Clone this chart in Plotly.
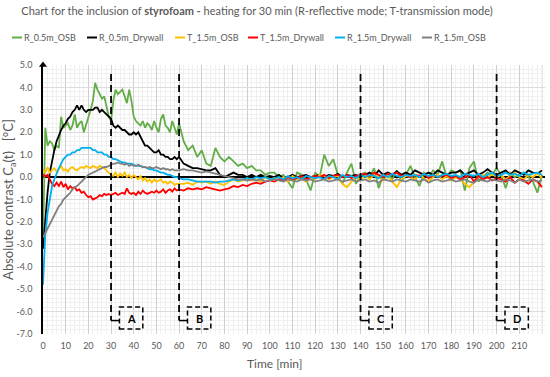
import plotly.graph_objects as go

# ---------------- data ----------------
time_min = list(range(0, 61)) + list(range(62, 221, 2))

series_names = ["R_0.5m_OSB", "R_0.5m_Drywall", "T_1.5m_OSB",
                "T_1.5m_Drywall", "R_1.5m_Drywall", "R_1.5m_OSB"]

r05_osb = [
    -3.0, 2.2, 1.4, 1.6, 1.5, 1.2, 1.4, 1.3, 2.7, 2.2,
    2.3, 2.4, 2.1, 2.3, 2.8, 2.2, 2.4, 2.5, 2.0, 2.3,
    2.6, 3.0, 3.4, 4.2, 3.9, 3.7, 3.5, 3.6, 3.2, 2.7,
    2.5, 3.4, 3.9, 3.7, 3.8, 3.9, 3.6, 3.3, 3.9, 3.4,
    2.7, 2.5, 2.4, 2.3, 2.5, 2.2, 2.4, 2.3, 2.1, 2.5,
    2.2, 2.0, 2.6, 2.8, 2.3, 2.2, 2.0, 2.5, 2.2, 1.9,
    2.4,
    1.6, 1.2, 1.4, 0.9, 1.2, 0.6, 0.5, 1.3, 0.9, 0.7,
    0.9, 0.7, 0.5, 0.6, 0.4, 0.5, 0.3, 0.3, 0.1, 0.2,
    0.2, 0.0, 0.1, -0.2, -0.5, 0.2, 0.1, -0.1, -0.6, 0.2,
    0.0, 1.0, 0.5, 0.8, 0.1, -0.3, 0.2, 0.6, -0.3, 0.1,
    0.2, 0.0, 0.4, -0.5, 0.1, 0.2, -0.1, 0.3, -0.2, 0.1,
    0.5, 0.0, -0.4, 0.2, 0.0, 0.3, 0.1, 0.7, 0.0, 0.3,
    0.2, 0.3, -0.6, 0.4, 0.7, -0.2, 0.0, 0.2, 0.1, 0.4,
    0.1, -0.5, 0.2, 0.0, 0.1, 0.2, 0.0, -0.2, -0.7, 0.1,
]

r05_drywall = [
    -3.2, -1.9, -0.7, 0.2, 0.8, 1.2, 1.6, 1.9, 2.1, 2.3,
    2.4, 2.6, 2.7, 2.9, 3.0, 3.2, 3.0, 3.2, 3.0, 2.9,
    3.0, 3.0, 3.0, 3.1, 3.1, 2.9, 3.0, 2.9, 2.8, 2.7,
    2.6, 2.3, 2.2, 2.3, 2.2, 2.1, 2.1, 2.0, 1.9, 1.9,
    2.0, 1.9, 2.0, 1.8, 1.6, 1.4, 1.4, 1.3, 1.2, 1.1,
    1.1, 1.2, 1.0, 1.0, 0.9, 0.9, 0.8, 0.8, 0.9, 0.8,
    0.9,
    0.6, 0.5, 0.4, 0.4, 0.35, 0.3, 0.3, 0.4, 0.1, 0.0,
    0.1, 0.2, 0.1, 0.1, 0.0, 0.1, 0.0, 0.1, 0.0, 0.05,
    0.0, 0.1, -0.05, 0.0, 0.1, 0.0, 0.05, 0.1, 0.0, 0.05,
    0.1, 0.0, 0.1, 0.05, 0.15, 0.0, 0.1, 0.05, 0.1, 0.0,
    0.1, 0.2, 0.05, 0.3, 0.1, 0.2, 0.1, 0.25, 0.1, 0.2,
    0.1, 0.3, 0.2, 0.1, 0.2, 0.1, 0.3, 0.2, 0.1, 0.2,
    0.2, 0.3, 0.1, 0.2, 0.3, 0.1, 0.2, 0.35, 0.2, 0.1,
    0.2, 0.3, 0.1, 0.3, 0.2, 0.1, 0.3, 0.2, 0.15, 0.3,
]

t15_osb = [
    0.3, 0.2, 0.45, 0.2, 0.3, 0.4, 0.25, 0.35, 0.5, 0.3,
    0.35, 0.25, 0.4, 0.45, 0.35, 0.3, 0.4, 0.45, 0.4, 0.5,
    0.45, 0.4, 0.5, 0.45, 0.4, 0.5, 0.45, 0.4, 0.3, 0.2,
    0.1, 0.05, 0.2, 0.0, 0.15, 0.05, 0.2, 0.0, 0.1, -0.05,
    0.1, 0.0, -0.1, 0.05, -0.15, -0.05, -0.2, -0.1, -0.25, -0.1,
    -0.2, -0.15, -0.1, -0.25, -0.2, -0.3, -0.2, -0.25, -0.35, -0.3,
    -0.3,
    -0.3, -0.25, -0.35, -0.2, -0.25, -0.2, -0.3, -0.2, -0.3, -0.35,
    -0.2, -0.1, -0.2, -0.15, -0.05, -0.15, -0.1, -0.2, 0.0, -0.1,
    -0.05, -0.1, 0.0, -0.2, 0.05, -0.1, -0.05, -0.2, 0.0, -0.1,
    0.1, 0.05, -0.1, 0.0, 0.05, -0.3, -0.45, -0.2, 0.0, -0.1,
    0.05, -0.1, 0.1, 0.0, -0.15, 0.05, -0.2, -0.45, -0.1, 0.05,
    0.0, -0.1, 0.1, -0.05, -0.2, 0.0, 0.1, -0.1, 0.05, -0.15,
    0.0, -0.1, -0.3, -0.45, -0.2, 0.0, 0.1, -0.05, 0.15, 0.0,
    0.1, -0.1, 0.05, 0.2, 0.0, -0.1, 0.1, 0.0, 0.15, -0.05,
]

t15_drywall = [
    0.1, 0.05, 0.1, -0.1, -0.3, -0.4, -0.25, -0.4, -0.2, -0.45,
    -0.3, -0.55, -0.4, -0.5, -0.45, -0.6, -0.55, -0.7, -0.65, -0.8,
    -0.9, -0.85, -1.0, -0.95, -0.9, -0.8, -0.85, -0.75, -0.8, -0.75,
    -0.8, -0.75, -0.7, -0.8, -0.75, -0.7, -0.75, -0.5, -0.7, -0.75,
    -0.7, -0.8, -0.65, -0.75, -0.6, -0.7, -0.75, -0.7, -0.65, -0.7,
    -0.6, -0.7, -0.65, -0.55, -0.7, -0.6, -0.55, -0.65, -0.5, -0.6,
    -0.55,
    -0.6, -0.5, -0.55, -0.5, -0.55, -0.45, -0.5, -0.55, -0.6, -0.55,
    -0.5, -0.4, -0.45, -0.35, -0.4, -0.3, -0.25, -0.3, -0.2, -0.15,
    -0.2, -0.1, -0.15, 0.0, -0.1, -0.05, 0.05, -0.1, 0.0, 0.05,
    0.0, 0.1, -0.05, 0.05, 0.1, 0.0, 0.1, -0.05, 0.05, 0.1,
    0.15, 0.05, 0.2, 0.1, 0.0, 0.15, 0.1, 0.2, 0.05, 0.1,
    0.0, 0.1, 0.05, 0.15, -0.05, 0.1, 0.0, 0.05, 0.1, -0.05,
    0.05, -0.1, 0.0, 0.1, -0.2, 0.05, -0.1, 0.0, -0.15, -0.05,
    -0.1, -0.2, 0.0, -0.25, -0.1, -0.15, -0.3, -0.1, -0.2, -0.45,
]

r15_drywall = [
    -4.8, -2.6, -1.6, -0.9, -0.4, -0.1, 0.2, 0.4, 0.6, 0.8,
    0.9, 1.0, 1.0, 1.1, 1.1, 1.2, 1.2, 1.3, 1.3, 1.3,
    1.3, 1.3, 1.2, 1.2, 1.1, 1.1, 1.1, 1.0, 1.0, 0.9,
    0.9, 0.8, 0.8, 0.75, 0.7, 0.65, 0.65, 0.6, 0.6, 0.6,
    0.55, 0.5, 0.5, 0.5, 0.45, 0.45, 0.4, 0.35, 0.35, 0.3,
    0.3, 0.25, 0.2, 0.2, 0.15, 0.1, 0.1, 0.05, 0.0, 0.0,
    -0.05,
    -0.1, -0.1, -0.15, -0.2, -0.2, -0.2, -0.2, -0.25, -0.2, -0.2,
    -0.15, -0.1, -0.15, -0.1, -0.05, -0.1, 0.0, -0.05, 0.0, -0.1,
    -0.05, 0.0, -0.1, 0.05, -0.05, 0.0, -0.1, 0.05, 0.0, -0.05,
    0.0, -0.1, 0.05, 0.0, -0.1, 0.1, 0.0, 0.05, -0.05, 0.1,
    0.0, 0.1, 0.05, -0.05, 0.1, 0.0, 0.15, 0.05, 0.0, 0.1,
    0.05, 0.1, 0.0, 0.15, 0.05, 0.1, 0.0, 0.1, 0.15, 0.05,
    0.1, 0.0, 0.15, 0.1, 0.05, 0.15, 0.0, 0.1, 0.2, 0.05,
    0.1, 0.2, 0.1, 0.15, 0.05, 0.2, 0.1, 0.15, 0.2, 0.1,
]

r15_osb = [
    -2.7, -2.5, -2.3, -2.1, -1.9, -1.7, -1.5, -1.3, -1.2, -1.0,
    -0.9, -0.8, -0.7, -0.55, -0.45, -0.4, -0.3, -0.2, -0.1, 0.0,
    0.1, 0.15, 0.2, 0.25, 0.3, 0.35, 0.4, 0.45, 0.45, 0.5,
    0.55, 0.6, 0.6, 0.65, 0.6, 0.6, 0.55, 0.6, 0.5, 0.55,
    0.5, 0.5, 0.55, 0.5, 0.45, 0.45, 0.4, 0.45, 0.4, 0.4,
    0.45, 0.4, 0.35, 0.4, 0.35, 0.35, 0.3, 0.35, 0.3, 0.3,
    0.3,
    0.35, 0.3, 0.3, 0.25, 0.2, 0.25, 0.2, 0.15, 0.1, 0.05,
    0.0, -0.05, -0.1, -0.1, -0.15, -0.1, -0.15, -0.1, -0.2, -0.15,
    -0.1, -0.15, -0.2, -0.1, -0.15, -0.2, -0.1, -0.15, -0.1, -0.2,
    -0.15, -0.1, -0.2, -0.15, -0.1, -0.2, -0.15, -0.1, -0.2, -0.15,
    -0.1, -0.2, -0.15, -0.25, -0.1, -0.15, -0.2, -0.1, -0.15, -0.2,
    -0.1, -0.15, -0.2, -0.1, -0.25, -0.15, -0.1, -0.2, -0.15, -0.1,
    -0.2, -0.15, -0.1, -0.2, -0.25, -0.1, -0.15, -0.2, -0.1, -0.15,
    -0.2, -0.1, -0.15, -0.25, -0.1, -0.2, -0.15, -0.1, -0.2, -0.15,
]

series_values = [r05_osb, r05_drywall, t15_osb, t15_drywall, r15_drywall, r15_osb]
series_colors = ["#62AD47", "#000000", "#FFC000", "#FF0000", "#00B0F0", "#808080"]

event_times = [30, 60, 140, 200]
event_labels = ["A", "B", "C", "D"]

y_tick_vals = [5, 4, 3, 2, 1, 0, -1, -2, -3, -4, -5, -6, -7]
y_tick_text = ["5.0", "4.0", "3.0", "2.0", "1.0", "0.0", "-1.0", "-2.0",
               "-3.0", "-4.0", "-5.0", "-6.0", "-7.0"]
x_tick_vals = list(range(0, 211, 10))
x_tick_text = [str(v) for v in x_tick_vals]
x_axis_max_tick = 220

# ---------------- figure ----------------
FONT = "Lato"
GREY = "#595959"
W, H = 550, 377
ML, MR, MT, MB = 43, 5, 65, 43
PW, PH = W - ML - MR, H - MT - MB
XGRID = "#cfcfcf"

fig = go.Figure()
for name, vals, col in zip(series_names, series_values, series_colors):
    fig.add_trace(go.Scatter(x=time_min, y=vals, mode="lines", name=name,
                             line=dict(color=col, width=1.8), showlegend=False,
                             hoverinfo="skip"))

# arrowhead on top of the y axis
fig.add_trace(go.Scatter(x=[0], y=[y_tick_vals[0]], mode="markers", showlegend=False,
                         marker=dict(symbol="triangle-up", size=7, color="black"),
                         cliponaxis=False, hoverinfo="skip"))

# last vertical gridline (axis maximum, unlabelled)
fig.add_shape(type="line", x0=x_axis_max_tick, x1=x_axis_max_tick, y0=-7, y1=5,
              layer="below", line=dict(color=XGRID, width=1))

# event markers (dashed vertical lines with labelled dashed boxes)
for ev, lab in zip(event_times, event_labels):
    fig.add_shape(type="line", x0=ev, x1=ev, y0=4.6, y1=-6.4,
                  line=dict(color="black", width=1.8, dash="7px,4px"))
    fig.add_shape(type="line", x0=ev, x1=ev + 3.7, y0=-6.4, y1=-6.4,
                  line=dict(color="black", width=1.5))
    fig.add_shape(type="rect", x0=ev + 3.7, x1=ev + 14, y0=-6.78, y1=-5.8,
                  line=dict(color="black", width=1.5, dash="5px,3px"))
    fig.add_annotation(x=ev + 8.85, y=-6.29, text=f"<b>{lab}</b>", showarrow=False,
                       font=dict(family=FONT, size=11, color="black"))

# custom legend (single compact row, as in the reference)
legend_px = [12, 87, 175, 248, 335, 422]
legend_py = 37.5
for name, col, px in zip(series_names, series_colors, legend_px):
    x0 = (px - ML) / PW
    x1 = (px + 10 - ML) / PW
    yy = (H - MB - legend_py) / PH
    fig.add_shape(type="line", xref="paper", yref="paper", x0=x0, x1=x1, y0=yy, y1=yy,
                  line=dict(color=col, width=2))
    fig.add_annotation(xref="paper", yref="paper", x=x1, y=yy, xanchor="left",
                       yanchor="middle", text=name, showarrow=False,
                       font=dict(family=FONT, size=9, color=GREY))

# x axis title
fig.add_annotation(xref="paper", yref="paper", x=(274.5 - ML) / PW, y=-(363.5 - (H - MB)) / PH,
                   text="Time [min]", showarrow=False, xanchor="center", yanchor="middle",
                   font=dict(family=FONT, size=12, color=GREY))

fig.update_layout(
    width=W, height=H,
    margin=dict(l=ML, r=MR, t=MT, b=MB, autoexpand=False),
    paper_bgcolor="white", plot_bgcolor="white",
    font=dict(family=FONT, color=GREY),
    showlegend=False,
    title=dict(text="Chart for the inclusion of <b>styrofoam -</b> heating for 30 min "
                    "(R-reflective mode; T-transmission mode)",
               x=257 / W, xanchor="center", xref="container",
               y=1 - 11 / H, yanchor="middle", yref="container",
               font=dict(family=FONT, size=11, color=GREY)),
    xaxis=dict(range=[0, PW / 2.268], tickvals=x_tick_vals, ticktext=x_tick_text,
               showgrid=True, gridcolor=XGRID, gridwidth=1, automargin=False,
               minor=dict(dtick=2, showgrid=True, gridcolor="#f0f0f0"),
               zeroline=False, showline=False,
               ticks="outside", ticklen=3, tickcolor="rgba(0,0,0,0)",
               tickfont=dict(family=FONT, size=9, color=GREY)),
    yaxis=dict(range=[-7, 5], tickvals=y_tick_vals, ticktext=y_tick_text,
               showgrid=True, gridcolor="#dcdcdc", gridwidth=1, automargin=False,
               minor=dict(dtick=0.2, showgrid=True, gridcolor="#f0f0f0"),
               zeroline=True, zerolinecolor="black", zerolinewidth=1.5,
               showline=True, linecolor="black", linewidth=1.5,
               ticks="outside", ticklen=7, tickcolor="rgba(0,0,0,0)",
               tickfont=dict(family=FONT, size=9, color=GREY),
               title=dict(text="Absolute contrast C<sub>a</sub>(t)   [°C]", standoff=1,
                          font=dict(family=FONT, size=13, color=GREY))),
)

fig.write_html("out.html", config={"displayModeBar": False},
               post_script="document.body.style.margin='0';")
